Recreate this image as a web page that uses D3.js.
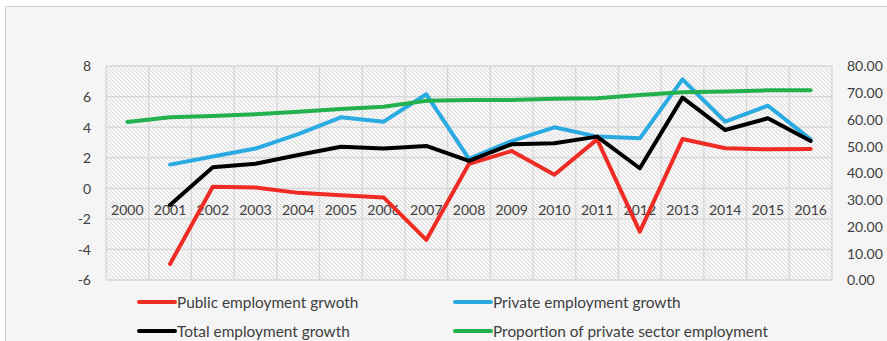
<!DOCTYPE html>
<html>
<head>
<meta charset="utf-8">
<script src="https://cdn.jsdelivr.net/npm/d3@7"></script>
<style>
  html, body { margin: 0; padding: 0; background: #ffffff; }
  svg { display: block; }
  text { font-family: Lato, "Open Sans", sans-serif; fill: #404040; }
</style>
</head>
<body>
<svg id="chart" width="887" height="341"></svg>
<script>
// Employment growth by year (%), and the private share of employment (%)
const years = ["2000","2001","2002","2003","2004","2005","2006","2007","2008",
               "2009","2010","2011","2012","2013","2014","2015","2016"];
const publicGrowth  = [null, -4.95, 0.1, 0.05, -0.3, -0.45, -0.6, -3.38, 1.6,
                       2.44, 0.88, 3.2, -2.84, 3.22, 2.62, 2.55, 2.57];
const privateGrowth = [null, 1.55, 2.08, 2.6, 3.55, 4.64, 4.36, 6.15, 1.92,
                       3.09, 3.99, 3.38, 3.27, 7.13, 4.36, 5.4, 3.2];
const totalGrowth   = [null, -1.09, 1.37, 1.6, 2.18, 2.72, 2.61, 2.77, 1.79,
                       2.88, 2.94, 3.38, 1.31, 5.93, 3.81, 4.58, 3.09];
const privateShare  = [59.1, 60.8, 61.3, 62.0, 62.9, 63.9, 64.8, 67.0, 67.3,
                       67.3, 67.8, 67.9, 69.2, 70.2, 70.5, 70.9, 70.9];
const leftTicks  = [-6, -4, -2, 0, 2, 4, 6, 8];
const rightTicks = [0, 10, 20, 30, 40, 50, 60, 70, 80];

const seriesList = [
  { name: "Public employment grwoth", values: publicGrowth, color: "#ee2b24", axis: "left" },
  { name: "Private employment growth", values: privateGrowth, color: "#29abe2", axis: "left" },
  { name: "Total employment growth", values: totalGrowth, color: "#000000", axis: "left" },
  { name: "Proportion of private sector employment", values: privateShare, color: "#22b14c", axis: "right" }
];

const svg = d3.select("#chart");
const W = 887, H = 341;
const plot = { left: 106, right: 832, top: 66, bottom: 280 };

// chart background and frame
svg.append("rect").attr("x", 5.5).attr("y", 6.5).attr("width", W).attr("height", H)
  .attr("fill", "#f5f5f5").attr("stroke", "#d0d0d0").attr("stroke-width", 1);

// diagonal hatch for the plot area
const defs = svg.append("defs");
const pat = defs.append("pattern").attr("id", "hatch").attr("patternUnits", "userSpaceOnUse")
  .attr("width", 4).attr("height", 4);
pat.append("rect").attr("width", 4).attr("height", 4).attr("fill", "#f6f6f6");
pat.append("path").attr("d", "M-1,-1 L5,5 M-1,3 L1,5 M3,-1 L5,1")
  .attr("stroke", "#dcdcdc").attr("stroke-width", 1);

const x = d3.scaleBand().domain(years).range([plot.left, plot.right]).paddingInner(0).paddingOuter(0);
const yL = d3.scaleLinear().domain([-6, 8]).range([plot.bottom, plot.top]);
const yR = d3.scaleLinear().domain([0, 80]).range([plot.bottom, plot.top]);
const cx = d => x(d) + x.bandwidth() / 2;

svg.append("rect").attr("x", plot.left).attr("y", plot.top)
  .attr("width", plot.right - plot.left).attr("height", plot.bottom - plot.top)
  .attr("fill", "url(#hatch)");

// gridlines
const grid = svg.append("g").attr("stroke", "#d6d6d6").attr("stroke-width", 1.3);
leftTicks.forEach(t => grid.append("line")
  .attr("x1", plot.left).attr("x2", plot.right).attr("y1", yL(t)).attr("y2", yL(t)));
years.concat(["end"]).forEach((d, i) => {
  const xx = i < years.length ? x(d) : plot.right;
  grid.append("line").attr("x1", xx).attr("x2", xx).attr("y1", plot.top).attr("y2", plot.bottom);
});

// left axis (plain hyphen for negatives)
const axL = svg.append("g").attr("transform", `translate(${plot.left - 15},0)`)
  .call(d3.axisLeft(yL).tickValues(leftTicks).tickSize(0).tickPadding(0).tickFormat(d => String(d)));
axL.select(".domain").remove();
axL.selectAll("text").attr("font-size", 14).style("fill", "#404040")
  .style("font-family", "Lato, sans-serif").attr("dy", "0.35em");

// right axis
const axR = svg.append("g").attr("transform", `translate(${plot.right + 15},0)`)
  .call(d3.axisRight(yR).tickValues(rightTicks).tickSize(0).tickPadding(0).tickFormat(d3.format(".2f")));
axR.select(".domain").remove();
axR.selectAll("text").attr("font-size", 14).style("fill", "#404040")
  .style("font-family", "Lato, sans-serif").attr("dy", "0.35em");

// category axis labels sit next to the zero line
const axX = svg.append("g").attr("transform", `translate(0,${yL(0)})`)
  .call(d3.axisBottom(x).tickSize(0).tickPadding(17));
axX.select(".domain").remove();
axX.selectAll("text").attr("font-size", 14).style("fill", "#404040")
  .style("font-family", "Lato, sans-serif");

// series lines
seriesList.forEach(s => {
  const scale = s.axis === "left" ? yL : yR;
  const line = d3.line()
    .defined(d => d.v !== null)
    .x(d => cx(d.year))
    .y(d => scale(d.v));
  svg.append("path")
    .datum(years.map((yr, i) => ({ year: yr, v: s.values[i] })))
    .attr("d", line).attr("fill", "none")
    .attr("stroke", s.color).attr("stroke-width", 4)
    .attr("stroke-linejoin", "round").attr("stroke-linecap", "round");
});

// legend
const legendPos = [[138, 302], [454, 302], [138, 331], [454, 331]];
seriesList.forEach((s, i) => {
  const [lx, ly] = legendPos[i];
  const g = svg.append("g").attr("transform", `translate(${lx},${ly})`);
  g.append("line").attr("x1", 1).attr("x2", 37).attr("y1", 0).attr("y2", 0)
    .attr("stroke", s.color).attr("stroke-width", 4).attr("stroke-linecap", "round");
  g.append("text").attr("x", 39).attr("y", 0).attr("dy", "0.36em")
    .attr("font-size", 15.4).text(s.name);
});
</script>
</body>
</html>
